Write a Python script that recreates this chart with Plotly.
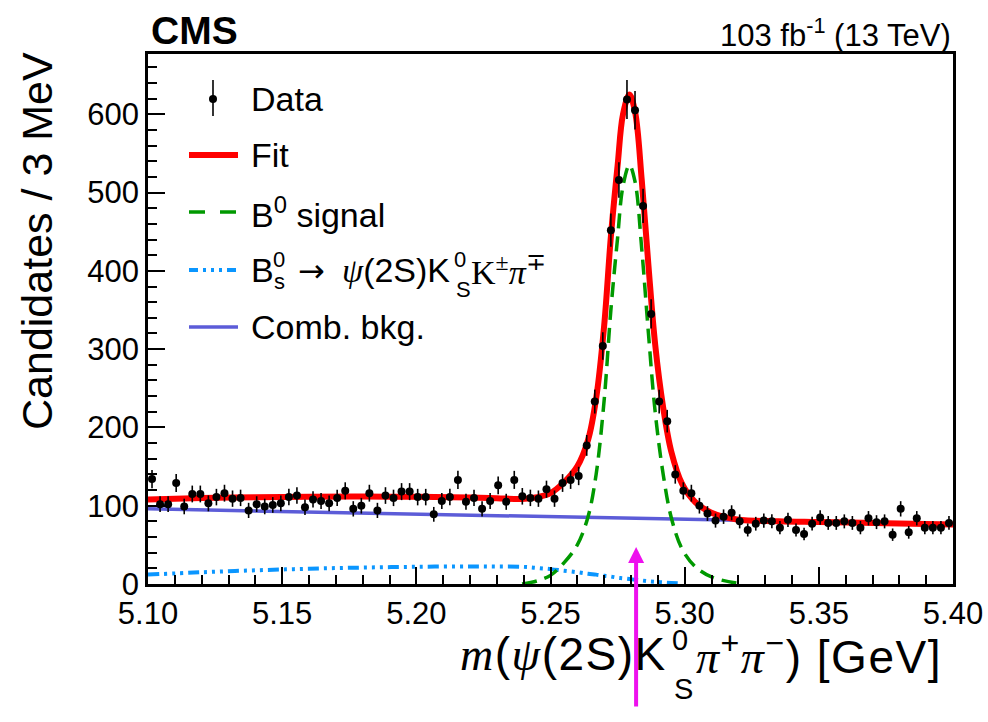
import numpy as np
import plotly.graph_objects as go

# ---------------- data (3 MeV bins, 5.10 - 5.40 GeV) ----------------
BIN_LO = 5.10
BIN_W = 0.003
counts = [134, 102, 102, 129, 99, 115, 115, 103, 111, 116,
          109, 110, 94, 102, 99, 101, 103, 111, 113, 98,
          108, 106, 103, 110, 119, 96, 100, 116, 94, 113,
          110, 118, 118, 111, 111, 89, 106, 111, 133, 105,
          110, 96, 106, 126, 105, 133, 112, 110, 109, 121,
          109, 129, 133, 138, 177, 233, 304, 452, 516, 619,
          605, 483, 345, 233, 208, 140, 119, 116, 100, 90,
          81, 86, 91, 80, 69, 77, 81, 80, 72, 82,
          69, 64, 77, 85, 78, 78, 80, 78, 72, 84,
          79, 80, 63, 96, 66, 84, 72, 72, 72, 78]
mass_centers = BIN_LO + BIN_W * (np.arange(len(counts)) + 0.5)
errors = np.sqrt(np.array(counts, dtype=float))

# ---------------- fit components ----------------
curve_mass = [5.100, 5.120, 5.140, 5.160, 5.180, 5.200, 5.220, 5.230, 5.2394, 5.245,
              5.250, 5.255, 5.260, 5.264, 5.267, 5.270, 5.2725, 5.275, 5.277, 5.2794,
              5.2815, 5.284, 5.2865, 5.289, 5.292, 5.295, 5.299, 5.304, 5.310, 5.3195,
              5.335, 5.350, 5.375, 5.400]
comb_bkg = [96.0, 94.7, 93.3, 92.0, 90.7, 89.3, 88.0, 87.3, 86.7, 86.3,
            86.0, 85.7, 85.3, 85.1, 84.9, 84.7, 84.5, 84.3, 84.2, 84.0,
            83.9, 83.7, 83.5, 83.4, 83.2, 83.0, 82.7, 82.4, 82.0, 81.4,
            80.3, 79.3, 77.7, 76.0]
bs_refl = [12, 15, 17.5, 19.5, 21, 22, 22.5, 22.3, 22, 20.5,
           19, 17, 15, 13, 12, 10.5, 9.5, 8, 7.3, 6.3,
           5.5, 4.5, 3.5, 2.8, 2, 1.3, 0.5, 0, 0, 0,
           0, 0, 0, 0]
b0_signal = [0, 0, 0, 0, 0, 0, 0, 0, 0, 4,
             11, 27, 50, 86, 140, 235, 350, 442, 508, 535,
             514, 428, 320, 220, 140, 85, 45, 22, 9, 1,
             0, 0, 0, 0]
fit_total = [c + b + s for c, b, s in zip(comb_bkg, bs_refl, b0_signal)]

ARROW_MASS = 5.2819

legend_labels = ["Data", "Fit", "B<sup>0</sup> signal", "Comb. bkg."]
xtick_vals = [5.10, 5.15, 5.20, 5.25, 5.30, 5.35, 5.40]
xtick_text = ["5.10", "5.15", "5.20", "5.25", "5.30", "5.35", "5.40"]

# ---------------- styling ----------------
SANS = "Liberation Sans"
SERIF = "Liberation Serif"
RED = "#ff0000"
GREEN = "#009900"
LBLUE = "#0a96ff"
SLATE = "#5c5cd8"
MAGENTA = "#ee10ee"

W, H = 988, 722
L, R, T, B = 148, 35, 54, 138
PW, PH = W - L - R, H - T - B


def px(x):
    return (x - L) / PW


def py(y):
    return (H - B - y) / PH


fig = go.Figure()

n = len(b0_signal)
sig_idx = [i for i in range(n) if b0_signal[i] > 0 or (i + 1 < n and b0_signal[i + 1] > 0)]
bs_idx = [i for i, b in enumerate(bs_refl) if b > 0]

fig.add_trace(go.Scatter(x=curve_mass, y=comb_bkg, mode="lines",
                         line=dict(color=SLATE, width=3.5), hoverinfo="skip"))
fig.add_trace(go.Scatter(x=[curve_mass[i] for i in bs_idx], y=[bs_refl[i] for i in bs_idx],
                         mode="lines", line=dict(color=LBLUE, width=4, shape="spline",
                                                 dash="11px,5px,3px,5px,3px,5px,3px,5px"),
                         hoverinfo="skip"))
fig.add_trace(go.Scatter(x=[curve_mass[i] for i in sig_idx], y=[b0_signal[i] for i in sig_idx],
                         mode="lines", line=dict(color=GREEN, width=3.5, shape="spline",
                                                 dash="15px,8px"),
                         hoverinfo="skip"))
fig.add_trace(go.Scatter(x=curve_mass, y=fit_total, mode="lines",
                         line=dict(color=RED, width=6, shape="spline"), hoverinfo="skip"))
fig.add_trace(go.Scatter(x=mass_centers, y=counts, mode="markers",
                         marker=dict(color="black", size=8),
                         error_y=dict(type="data", array=errors, color="black",
                                      thickness=1.6, width=0),
                         hoverinfo="skip"))

axis_common = dict(showline=True, linecolor="black", linewidth=2.5, mirror=True,
                   ticks="inside", tickcolor="black", tickwidth=1.5,
                   showgrid=False, zeroline=False, automargin=False,
                   tickfont=dict(family=SANS, size=31, color="black"))

fig.update_layout(
    width=W, height=H,
    margin=dict(l=L, r=R, t=T, b=B, autoexpand=False),
    paper_bgcolor="white", plot_bgcolor="white",
    showlegend=False,
    xaxis=dict(range=[5.10, 5.40], tickvals=xtick_vals, ticktext=xtick_text,
               ticklen=17, minor=dict(dtick=0.01, tick0=5.10, ticks="inside", ticklen=9,
                                      tickwidth=1.5, tickcolor="black", showgrid=False),
               **axis_common),
    yaxis=dict(range=[0, 677], dtick=100, tick0=0, ticklen=17,
               minor=dict(dtick=20, tick0=0, ticks="inside", ticklen=9,
                          tickwidth=1.5, tickcolor="black", showgrid=False),
               **axis_common),
)

anns = []
shapes = []


def text(x, y, s, size, xanchor="left", yanchor="middle", family=SANS, angle=0):
    anns.append(dict(x=px(x), y=py(y), xref="paper", yref="paper", text=s,
                     showarrow=False, xanchor=xanchor, yanchor=yanchor,
                     textangle=angle,
                     font=dict(family=family, size=size, color="black")))


def it(s):
    return f'<span style="font-family:{SERIF}"><i>{s}</i></span>'


def wide(s):
    return f'<span style="letter-spacing:1.5px">{s}</span>'


# header
text(149, 31, "<b>CMS</b>", 39)
text(953, 33, "103 fb<sup>-1</sup> (13 TeV)", 31, xanchor="right")

# axis titles
text(37, 241, "Candidates / 3 MeV", 43, xanchor="center", angle=-90)
text(669, 654, wide(it("m") + "(" + it("ψ") + "(2S)K"), 46, xanchor="right")
text(680, 640, "0", 29, xanchor="center")
text(683, 689, "S", 29, xanchor="center")
text(694, 654, wide(it("π") + "<sup>+</sup>" + it("π") + "<sup>−</sup>) [GeV]"), 46)

# legend
LEG_X0, LEG_X1, TXT_X = 189, 238, 249
rows_y = [99, 155, 212, 270, 327]
shapes.append(dict(type="line", xref="paper", yref="paper",
                   x0=px(213), x1=px(213), y0=py(80), y1=py(116),
                   line=dict(color="black", width=1.6)))
shapes.append(dict(type="circle", xref="paper", yref="paper",
                   x0=px(209), x1=px(217), y0=py(95), y1=py(103),
                   fillcolor="black", line=dict(color="black", width=0)))
shapes.append(dict(type="line", xref="paper", yref="paper",
                   x0=px(LEG_X0), x1=px(LEG_X1), y0=py(rows_y[1]), y1=py(rows_y[1]),
                   line=dict(color=RED, width=6)))
shapes.append(dict(type="line", xref="paper", yref="paper",
                   x0=px(LEG_X0), x1=px(LEG_X1), y0=py(rows_y[2]), y1=py(rows_y[2]),
                   line=dict(color=GREEN, width=3.5, dash="16px,15px")))
shapes.append(dict(type="line", xref="paper", yref="paper",
                   x0=px(LEG_X0), x1=px(LEG_X1), y0=py(rows_y[3]), y1=py(rows_y[3]),
                   line=dict(color=LBLUE, width=4, dash="9px,5px,3px,5px,3px,5px,3px,5px")))
shapes.append(dict(type="line", xref="paper", yref="paper",
                   x0=px(LEG_X0), x1=px(LEG_X1), y0=py(rows_y[4]), y1=py(rows_y[4]),
                   line=dict(color=SLATE, width=3.5)))

text(TXT_X, rows_y[0], legend_labels[0], 34)
text(TXT_X, rows_y[1], legend_labels[1], 34)
text(TXT_X, rows_y[2], legend_labels[2], 34)
text(TXT_X, rows_y[4], legend_labels[3], 34)
# B_s row with stacked indices
text(TXT_X, rows_y[3], "B", 34)
text(279, 259, "0", 22, xanchor="center")
text(279, 281, "s", 22, xanchor="center")
text(296, rows_y[3] + 1, '<span style="font-family:DejaVu Sans">→</span>', 32)
text(452, rows_y[3], it("ψ") + "(2S)K", 34, xanchor="right")
text(460, 259, "0", 22, xanchor="center")
text(463, 289, "S", 22, xanchor="center")
text(469, rows_y[3], "K<sup>±</sup><i>π</i><sup>∓</sup>", 34, family=SERIF)

# magenta arrow
anns.append(dict(x=ARROW_MASS, y=py(547), xref="x", yref="paper",
                 ax=0, ay=161, axref="pixel", ayref="pixel",
                 showarrow=True, arrowhead=2, arrowsize=0.8, arrowwidth=4,
                 arrowcolor=MAGENTA, text=""))

fig.update_layout(annotations=anns, shapes=shapes)
fig.write_html("out.html")
